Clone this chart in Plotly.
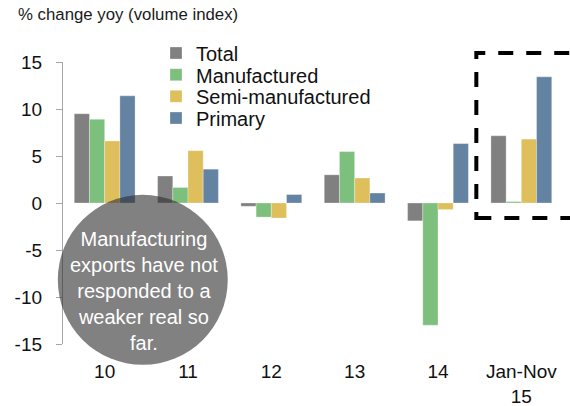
import plotly.graph_objects as go

categories = ["10", "11", "12", "13", "14", "Jan-Nov<br>15"]
total = [9.5, 2.87, -0.35, 3.0, -1.9, 7.15]
manufactured = [8.9, 1.65, -1.5, 5.47, -13.0, 0.15]
semi_manufactured = [6.6, 5.57, -1.6, 2.66, -0.7, 6.8]
primary = [11.4, 3.6, 0.9, 1.06, 6.32, 13.42]
y_ticks = [-15, -10, -5, 0, 5, 10, 15]
y_tick_labels = [str(v) for v in y_ticks]

series = [
    ("Total", total, "#808080"),
    ("Manufactured", manufactured, "#7dbf7d"),
    ("Semi-manufactured", semi_manufactured, "#dfbf5c"),
    ("Primary", primary, "#6483a3"),
]

FONT = "Liberation Sans, Arial, sans-serif"
W, H = 570, 406
L, R, T, B = 62.5, 7.3, 61.7, 62.3

fig = go.Figure()
legend_rows = [53, 74.7, 96.3, 118]
for i, (name, vals, col) in enumerate(series):
    fig.add_trace(go.Bar(
        name=name, x=categories, y=vals,
        marker=dict(color=col, line=dict(color="rgba(255,255,255,0.5)", width=0.6)),
        legend="legend" if i == 0 else f"legend{i+1}",
    ))

legend_common = dict(
    xref="container", yref="container", xanchor="left", yanchor="middle",
    x=156 / W, bgcolor="rgba(0,0,0,0)", borderwidth=0,
    font=dict(family=FONT, size=20, color="#111111"),
    itemwidth=30,
)
layout_legends = {}
for i, yy in enumerate(legend_rows):
    key = "legend" if i == 0 else f"legend{i+1}"
    layout_legends[key] = dict(legend_common, y=1 - yy / H)

axis_col = "#a6a6a6"
fig.update_layout(
    width=W, height=H,
    margin=dict(l=L, r=R, t=T, b=B, pad=0, autoexpand=False),
    paper_bgcolor="white", plot_bgcolor="white",
    barmode="group", bargap=0.27, bargroupgap=0,
    showlegend=True,
    title=dict(text="% change yoy (volume index)", xref="container", yref="container",
               x=18 / W, y=1 - 14 / H, xanchor="left", yanchor="middle",
               font=dict(family=FONT, size=16.8, color="#1a1a1a")),
    font=dict(family=FONT, color="#111111"),
    xaxis=dict(
        type="category", categoryorder="array", categoryarray=categories,
        range=[-0.5, 5.5],
        showline=False, showgrid=False, zeroline=False, ticks="",
        tickfont=dict(family=FONT, size=19, color="#111111"),
        ticklabelstandoff=14, tickangle=0,
    ),
    xaxis2=dict(
        overlaying="x", anchor="free", position=0.5, type="linear",
        range=[-0.5, 5.5], tickmode="array",
        tickvals=[-0.5, 0.5, 1.5, 2.5, 3.5, 4.5, 5.5],
        showticklabels=False, showline=True, linecolor=axis_col, linewidth=1.3,
        ticks="outside", ticklen=6, tickcolor=axis_col, tickwidth=1.3,
        showgrid=False, zeroline=False,
    ),
    yaxis=dict(
        range=[-15, 15], tickmode="array", tickvals=y_ticks, ticktext=y_tick_labels,
        showline=True, linecolor=axis_col, linewidth=1.3,
        ticks="outside", ticklen=6, tickcolor=axis_col, tickwidth=1.3,
        showgrid=False, zeroline=False,
        tickfont=dict(family=FONT, size=19, color="#111111"),
        ticklabelstandoff=10,
    ),
    **layout_legends,
)

pw = W - L - R
ph = H - T - B
def px(xp):
    return (xp - L) / pw
def py(yp):
    return (H - B - yp) / ph

# dashed highlight box around the latest period
fig.add_shape(type="rect", xref="paper", yref="paper",
              x0=px(476), x1=px(580), y0=py(217.7), y1=py(52.7),
              line=dict(color="black", width=4, dash="15px,13px"),
              fillcolor="rgba(0,0,0,0)", layer="above")

# callout bubble
fig.add_shape(type="circle", xref="paper", yref="paper",
              x0=px(57.3), x1=px(227.3), y0=py(364.5), y1=py(194.5),
              line=dict(width=0), fillcolor="rgba(45,45,45,0.6)", layer="above")
fig.add_annotation(xref="paper", yref="paper", x=px(143.3), y=py(290.3),
                   xanchor="center", yanchor="middle", showarrow=False,
                   text="Manufacturing<br>exports have not<br>responded to a<br>weaker real so<br>far.",
                   font=dict(family=FONT, size=20, color="white"), align="center")

fig.write_html("out.html", config={"displayModeBar": False},
               post_script="document.body.style.margin='0';document.body.style.overflow='hidden';")
